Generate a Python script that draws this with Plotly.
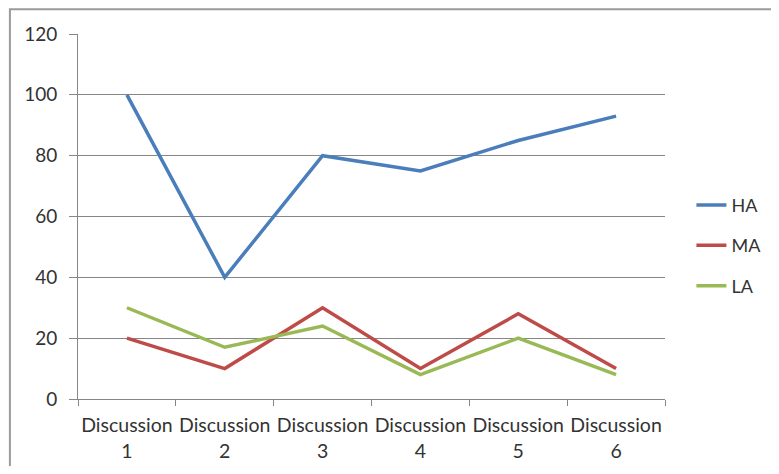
import plotly.graph_objects as go

categories = ["Discussion<br>1", "Discussion<br>2", "Discussion<br>3",
              "Discussion<br>4", "Discussion<br>5", "Discussion<br>6"]
ha = [100, 40, 80, 75, 85, 93]
ma = [20, 10, 30, 10, 28, 10]
la = [30, 17, 24, 8, 20, 8]

series = [("HA", ha, "#4A7EBB"), ("MA", ma, "#BE4B48"), ("LA", la, "#98B954")]

fig = go.Figure()
for name, vals, color in series:
    fig.add_trace(go.Scatter(
        x=categories, y=vals, mode="lines", name=name,
        legendgroup=name,
        line=dict(color=color, width=3.5),
    ))

# outer chart border (Excel style), runs off the right/bottom edges
fig.add_shape(type="rect", xref="paper", yref="paper",
              x0=-0.116, x1=1.4, y0=-0.4, y1=1.068,
              line=dict(color="#9a9a9a", width=2), layer="below")

fig.update_layout(
    width=763, height=458,
    margin=dict(l=70, r=106, t=26, b=67, autoexpand=False),
    plot_bgcolor="white", paper_bgcolor="white",
    font=dict(family="Lato, Open Sans, sans-serif", size=19, color="#333333"),
    xaxis=dict(
        type="category", tickson="boundaries", range=[-0.5, 5.5],
        ticks="outside", ticklen=6, ticklabelstandoff=9, tickangle=0,
        automargin=False,
        tickcolor="#868686", showline=True, linecolor="#868686", linewidth=1,
        showgrid=False, tickfont=dict(size=19.5),
    ),
    yaxis=dict(
        range=[0, 120], dtick=20, ticks="outside", ticklen=8,
        ticklabelstandoff=8, automargin=False,
        tickcolor="#868686", showline=True, linecolor="#868686", linewidth=1,
        gridcolor="#868686", gridwidth=1, zeroline=False,
        tickfont=dict(size=19),
    ),
    legend=dict(
        x=1.045, y=0.42, xanchor="left", yanchor="middle",
        font=dict(size=18), tracegroupgap=14, traceorder="grouped",
        itemwidth=30, bgcolor="rgba(0,0,0,0)",
    ),
    showlegend=True,
)

fig.write_html("out.html")
